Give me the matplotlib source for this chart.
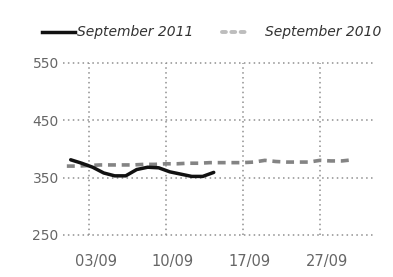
import matplotlib.pyplot as plt
import matplotlib.transforms as mtransforms
from matplotlib.lines import Line2D

# days of the month (x positions) and prices
days_2011 = [1, 2, 3, 4, 5, 6, 7, 8, 9, 10, 11, 12, 13, 14]
values_2011 = [381, 375, 368, 358, 353, 353, 364, 368, 367, 360, 356, 352, 352, 359]

days_2010 = list(range(1, 28))
values_2010 = [370, 370, 371, 372, 372, 372, 372, 373, 373, 374, 374, 375, 375, 376,
               376, 376, 376, 377, 380, 378, 377, 377, 377, 380, 379, 379, 381]

tick_pos = [3, 10, 17, 24]
tick_labels = ['03/09', '10/09', '17/09', '27/09']
y_ticks = [250, 350, 450, 550]
series_names = ['September 2011', 'September 2010']

fig = plt.figure(figsize=(3.93, 2.77), dpi=100)
ax = fig.add_axes([0.160, 0.152, 0.794, 0.621])

ax.plot([d + 0.35 for d in days_2011], values_2011, color='#111111', lw=2.5,
        solid_capstyle='round', zorder=3)
ax.plot(days_2010, values_2010, color='#848484', lw=2.6,
        dashes=(2.2, 1.6), zorder=2)

ax.set_xlim(0.64, 29)
ax.set_ylim(250, 550)
ax.set_xticks(tick_pos)
ax.set_xticklabels(tick_labels)
ax.set_yticks(y_ticks)
ax.tick_params(length=0, colors='#666666')
ax.tick_params(axis='y', labelsize=10, pad=3)
ax.tick_params(axis='x', labelsize=10.5, pad=14)
for spine in ax.spines.values():
    spine.set_visible(False)
ax.grid(True, color='#8f8f8f', linestyle=(0, (1, 2.2)), linewidth=1.1)
for gl in ax.get_xgridlines() + ax.get_ygridlines():
    gl.set_clip_on(False)

# labels sit a bit right of their gridlines
offset = mtransforms.ScaledTranslation(7 / 100, 0, fig.dpi_scale_trans)
for lab in ax.get_xticklabels():
    lab.set_transform(lab.get_transform() + offset)

# legend drawn by hand, the two entries are spaced differently
W, H = 393, 277
ly = 1 - 32 / H
fig.add_artist(Line2D([42 / W, 75 / W], [ly, ly], color='#111111', lw=2.5))
fig.text(77 / W, ly, series_names[0], style='italic', fontsize=10,
         color='#333333', va='center', ha='left')
fig.add_artist(Line2D([222 / W, 250 / W], [ly, ly], color='#bdbdbd', lw=2.8,
                      linestyle=(0, (1, 1.4)), dash_capstyle='round'))
fig.text(265 / W, ly, series_names[1], style='italic', fontsize=10,
         color='#333333', va='center', ha='left')

fig.savefig('out.png', dpi=100, facecolor='white')
